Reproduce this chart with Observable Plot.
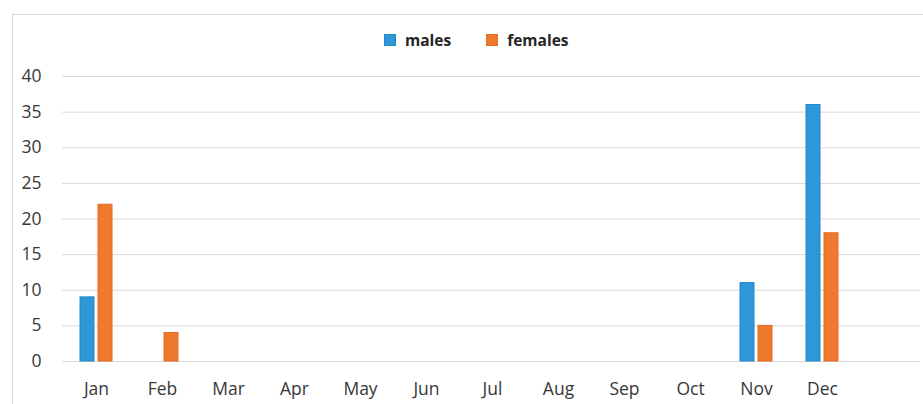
<!DOCTYPE html>
<html><head><meta charset="utf-8">
<script src="https://cdn.jsdelivr.net/npm/d3@7"></script>
<script src="https://cdn.jsdelivr.net/npm/@observablehq/plot@0.6"></script>
<style>
body{margin:0;background:#fff;font-family:"Open Sans",sans-serif;}
#wrap{position:relative;width:923px;height:404px;overflow:hidden;background:#fff;}
#frame{position:absolute;left:12px;top:14px;width:2000px;height:2000px;border:1px solid #d9d9d9;}
#chart{position:absolute;left:0;top:0;}
#legend{position:absolute;left:384px;top:29px;display:flex;align-items:center;font-weight:bold;font-size:15.5px;color:#262626;white-space:nowrap;}
#legend .item{display:flex;align-items:center;margin-right:35px;}
#legend .sw{width:12px;height:12px;margin-right:9px;box-sizing:border-box;border:1px solid;}
</style></head><body>
<div id="wrap"><div id="frame"></div><div id="chart"></div><div id="legend"></div></div>
<script>
const months = ["Jan","Feb","Mar","Apr","May","Jun","Jul","Aug","Sep","Oct","Nov","Dec"];
const males = [9,0,0,0,0,0,0,0,0,0,11,36];
const females = [22,4,0,0,0,0,0,0,0,0,5,18];
const series = ["males","females"];
const fills = ["#2D97D8","#EF7A2E"];
const strokes = ["#2387C9","#E46A26"];
const yTicks = [0,5,10,15,20,25,30,35,40];

const rows = months.flatMap((m,i)=>[
  {month:m, sex:"males", value:males[i]},
  {month:m, sex:"females", value:females[i]}
]);

const plot = Plot.plot({
  width: 923,
  height: 404,
  marginTop: 76,
  marginBottom: 43,
  marginLeft: 62,
  marginRight: 3,
  style: {fontFamily:"'Open Sans', sans-serif", fontSize:"17.5px", color:"#383838", background:"transparent"},
  x: {domain: months, range:[61.5, 855.7], padding:0, tickSize:0, tickPadding:21.5, label:null},
  y: {domain:[0,40], ticks: yTicks, tickSize:0, tickPadding:21, label:null},
  marks: [
    Plot.ruleY(yTicks, {stroke:"#d9d9d9", strokeWidth:1}),
    Plot.barY(rows, {filter: d=>d.sex===series[0] && d.value>0, x:"month", y:"value",
      fill:fills[0], stroke:strokes[0], strokeWidth:1, insetLeft:17, insetRight:35}),
    Plot.barY(rows, {filter: d=>d.sex===series[1] && d.value>0, x:"month", y:"value",
      fill:fills[1], stroke:strokes[1], strokeWidth:1, insetLeft:35, insetRight:17})
  ]
});
document.getElementById("chart").appendChild(plot);

const lg = document.getElementById("legend");
series.forEach((s,i)=>{
  const it = document.createElement("div"); it.className="item";
  const sw = document.createElement("span"); sw.className="sw";
  sw.style.background = fills[i]; sw.style.borderColor = strokes[i];
  const t = document.createElement("span"); t.textContent = s;
  it.appendChild(sw); it.appendChild(t); lg.appendChild(it);
});
</script>
</body></html>
